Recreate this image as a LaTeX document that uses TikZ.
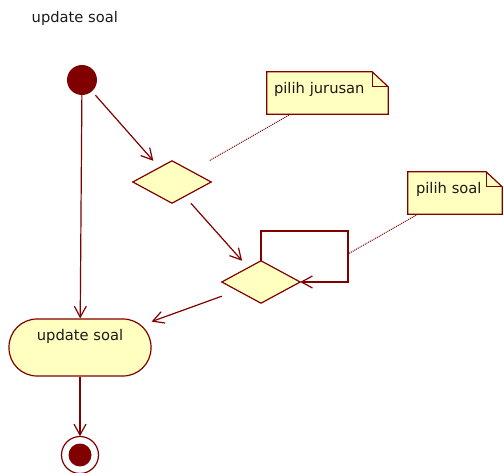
\documentclass[tikz,border=0pt]{standalone}
\usepackage{fontspec}
\setmainfont{DejaVu Sans}
\usetikzlibrary{arrows.meta}
\definecolor{umlred}{HTML}{800000}
\definecolor{umlfill}{HTML}{FFFFC0}
\definecolor{umltext}{HTML}{1A1A1A}
\pgfdeclarelayer{bg}
\pgfsetlayers{bg,main}

\begin{document}
\begin{tikzpicture}[x=1pt,y=-1pt,
  every node/.style={font=\fontsize{14.7}{17}\selectfont, text=umltext},
  frame/.style={rectangle, inner sep=0pt, draw=none},
  decision/.style={frame, minimum width=78pt, minimum height=42pt},
  action/.style={rectangle, rounded corners=28pt, draw=umlred, fill=umlfill,
    line width=1.2pt, minimum width=142pt, minimum height=57pt, inner sep=0pt,
    text height=11pt, text depth=24pt},
  notebox/.style={frame, minimum height=42pt, align=left,
    text height=12pt, text depth=10pt},
  shapeline/.style={draw=umlred, line width=1.2pt},
  notebody/.style={draw=umlred, fill=umlfill, line width=1.2pt, line join=miter},
  flow/.style={draw=umlred, line width=1.2pt,
    -{Straight Barb[length=11pt,width=12pt]}},
  anchorline/.style={draw=umlred, line width=1pt, densely dotted}]

\useasboundingbox (0,0) rectangle (504,473);

% title of the activity
\node[anchor=base west, inner sep=0pt] (title) at (31.5,23) {update soal};

% initial and final states
\node[frame, minimum size=30pt] (start) at (82,80) {};
\fill[umlred] (start.center) circle (15pt);

\node[frame, minimum size=37pt] (end) at (80,455) {};
\draw[umlred, line width=1.2pt] (end.center) circle (18.5pt);
\fill[umlred] (end.center) circle (11.5pt);

% decision nodes
\node[decision] (d1) at (172,182) {};
\node[decision] (d2) at (261,282) {};
\foreach \d in {d1,d2}
  \draw[shapeline, fill=umlfill] (\d.north) -- (\d.east) -- (\d.south) -- (\d.west) -- cycle;

% action
\node[action] (act) at (80,347.5) {update soal};

% notes
\node[notebox, minimum width=121pt, inner xsep=7pt, text width=107pt] (n1) at (327.5,93) {pilih jurusan};
\node[notebox, minimum width=94pt, inner xsep=8pt, text width=78pt] (n2) at (455,193) {pilih soal};
\begin{pgfonlayer}{bg}
  \foreach \n in {n1,n2}{
    \draw[notebody] (\n.north west) -- ([xshift=-16pt]\n.north east)
      -- ([yshift=-15pt]\n.north east) -- (\n.south east) -- (\n.south west) -- cycle;
    \draw[shapeline] ([xshift=-16pt]\n.north east) -- ([xshift=-16pt,yshift=-15pt]\n.north east)
      -- ([yshift=-15pt]\n.north east);
  }
\end{pgfonlayer}

% control flows
\draw[flow] (start) -- (d1);
\draw[flow] (start) -- (act);
\draw[flow] (d1) -- (d2);
\coordinate (loopcorner) at (348,231);
\coordinate (loopmid) at (348,254);
\draw[flow] (d2.north) |- (loopcorner) |- (d2.east);
\draw[flow] (d2) -- (act);
\draw[flow] (act) -- (end);

% note attachments
\draw[anchorline] (n1) -- (d1);
\draw[anchorline] (n2) -- (loopmid);
\end{tikzpicture}
\end{document}
